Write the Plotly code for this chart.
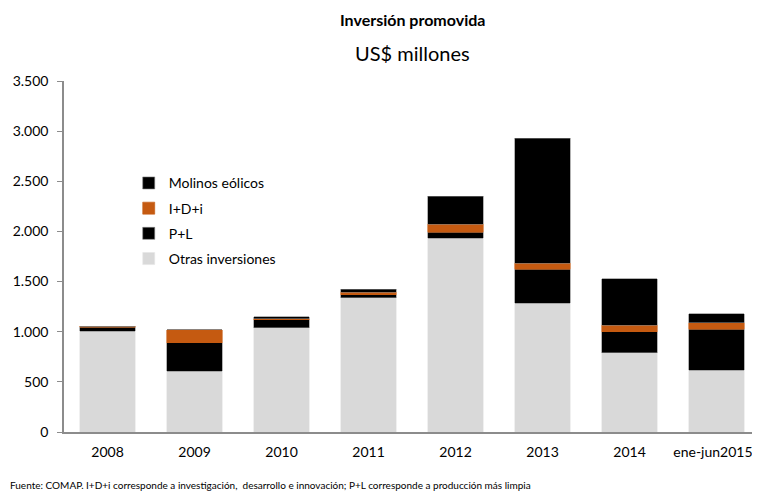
import plotly.graph_objects as go

categories = ["2008", "2009", "2010", "2011", "2012", "2013", "2014", "ene-jun2015"]
tick_text = ["2008", "2009", "2010", "2011", "2012", "2013", "2014", "ene-jun2015&nbsp;&nbsp;"]

otras = [1005, 608, 1040, 1340, 1931, 1283, 791, 618]
pl = [40, 282, 77, 30, 60, 342, 209, 409]
idi = [8, 130, 10, 24, 80, 60, 63, 60]
molinos = [0, 0, 20, 30, 279, 1246, 466, 93]

y_ticks = [0, 500, 1000, 1500, 2000, 2500, 3000, 3500]

FONT = "Lato, Calibri, sans-serif"

# page body has an 8px margin, so the figure is drawn 8px in and down
OFF = 8
W, H = 760 - OFF, 491 - OFF
L, T, B = 64 - OFF, 81 - OFF, 491 - 432

fig = go.Figure()

# (name, values, fill, outline, legend rank)
series = [
    ("Otras inversiones", otras, "#d9d9d9", "#e6e6e6", 4),
    ("P+L", pl, "#000000", "#7f7f7f", 3),
    ("I+D+i", idi, "#c55a11", "#c55a11", 2),
    ("Molinos eólicos", molinos, "#000000", "#7f7f7f", 1),
]

for name, vals, color, lcolor, rank in series:
    fig.add_trace(go.Bar(
        x=categories, y=vals, name=name,
        marker=dict(color=color, line=dict(color=lcolor, width=0.6)),
        legendgroup=name, legendrank=rank,
    ))

pw, ph = W - L, H - T - B


def py(y_screen):
    # screen pixel y -> paper coordinate
    return (H - B - (y_screen - OFF)) / ph


def px(x_screen):
    return (x_screen - OFF - L) / pw


fig.update_layout(
    barmode="stack",
    bargap=0.36,
    width=W, height=H,
    margin=dict(l=L, r=0, t=T, b=B),
    plot_bgcolor="white",
    paper_bgcolor="white",
    separators=",.",
    font=dict(family=FONT, size=14, color="black"),
    showlegend=True,
    legend=dict(
        x=0.093, y=0.754, xanchor="left", yanchor="top",
        traceorder="grouped",
        tracegroupgap=4,
        font=dict(size=14, family=FONT),
        bgcolor="rgba(0,0,0,0)",
        itemwidth=30,
    ),
    xaxis=dict(
        showline=True, linecolor="#8c8c8c", linewidth=1.5,
        ticks="", tickfont=dict(size=14),
        tickvals=categories, ticktext=tick_text,
        ticklabelstandoff=6,
    ),
    yaxis=dict(
        range=[0, 3500], tickvals=y_ticks, tickformat=",d",
        showline=True, linecolor="#8c8c8c", linewidth=1.5,
        ticks="outside", ticklen=5, tickcolor="#8c8c8c",
        showgrid=False, zeroline=False, tickfont=dict(size=14),
        ticklabelstandoff=6,
    ),
    annotations=[
        dict(text="<b>Inversión promovida</b>", x=0.5, xref="paper", y=py(19), yref="paper",
             yanchor="middle", showarrow=False, font=dict(size=16)),
        dict(text="US$ millones", x=0.5, xref="paper", y=py(53), yref="paper",
             yanchor="middle", showarrow=False, font=dict(size=20)),
        dict(text="Fuente: COMAP. I+D+i corresponde a investigación,  desarrollo e innovación; P+L corresponde a producción más limpia",
             x=px(8), xref="paper", xanchor="left", y=py(485), yref="paper", yanchor="middle",
             showarrow=False, font=dict(size=10)),
    ],
)

fig.write_html("out.html")
